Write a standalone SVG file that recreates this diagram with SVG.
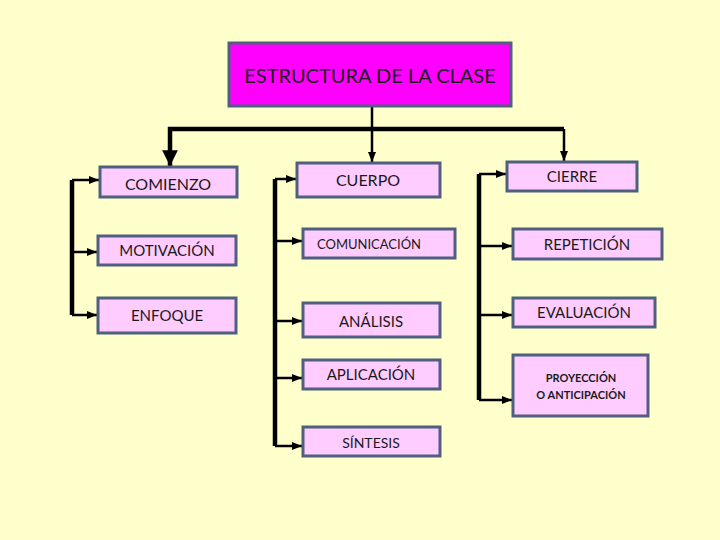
<svg xmlns="http://www.w3.org/2000/svg" width="720" height="540" viewBox="0 0 720 540">
<defs>
<style>
.box{fill:#FFCCFF;stroke:#4F5F80;stroke-width:3}
.title{fill:#FF00FF;stroke:#4F5F80;stroke-width:3}
text{font-family:Lato,"Liberation Sans",sans-serif;fill:#1a1a1a;text-anchor:middle;dominant-baseline:central}
.ln{fill:none;stroke:#000;stroke-width:2.5}
.thick{fill:none;stroke:#000;stroke-width:4.5}
</style>
<marker id="a" viewBox="0 0 10 10" refX="10" refY="5" markerWidth="4" markerHeight="4" markerUnits="strokeWidth" orient="auto"><path d="M0,1 L10,5 L0,9 Z" fill="#000"/></marker>
<marker id="big" viewBox="0 0 10 10" refX="10" refY="5" markerWidth="3.5" markerHeight="3.5" markerUnits="strokeWidth" orient="auto"><path d="M0,0 L10,5 L0,10 Z" fill="#000"/></marker>
</defs>
<rect width="720" height="540" fill="#FFFFCC"/>
<g id="connectors">
<path class="ln" d="M372,106 V162" marker-end="url(#a)"/>
<path class="thick" d="M564,129 H170 V166" marker-end="url(#big)"/>
<path class="ln" d="M564,129 V161" marker-end="url(#a)"/>
<path class="thick" d="M72,180 V315"/>
<path class="ln" d="M72,180 H99" marker-end="url(#a)"/>
<path class="ln" d="M72,252 H97" marker-end="url(#a)"/>
<path class="ln" d="M72,315 H97" marker-end="url(#a)"/>
<path class="thick" d="M275,179 V446"/>
<path class="ln" d="M275,179 H296" marker-end="url(#a)"/>
<path class="ln" d="M275,241 H302" marker-end="url(#a)"/>
<path class="ln" d="M275,321 H302" marker-end="url(#a)"/>
<path class="ln" d="M275,378 H302" marker-end="url(#a)"/>
<path class="ln" d="M275,446 H302" marker-end="url(#a)"/>
<path class="thick" d="M479,174 V400"/>
<path class="ln" d="M479,174 H506" marker-end="url(#a)"/>
<path class="ln" d="M479,246 H512" marker-end="url(#a)"/>
<path class="ln" d="M479,315 H512" marker-end="url(#a)"/>
<path class="ln" d="M479,400 H512" marker-end="url(#a)"/>
</g>
<g id="n-title"><rect class="title" x="229" y="43" width="282" height="63"/><text x="370" y="75" font-size="20">ESTRUCTURA DE LA CLASE</text></g>
<g id="n-comienzo"><rect class="box" x="100" y="167" width="137" height="30"/><text x="168" y="183" font-size="16">COMIENZO</text></g>
<g id="n-motivacion"><rect class="box" x="98" y="236" width="138" height="29"/><text x="167" y="250" font-size="15">MOTIVACIÓN</text></g>
<g id="n-enfoque"><rect class="box" x="98" y="298" width="138" height="35"/><text x="167" y="315" font-size="15">ENFOQUE</text></g>
<g id="n-cuerpo"><rect class="box" x="297" y="163" width="143" height="34"/><text x="368" y="179" font-size="16">CUERPO</text></g>
<g id="n-comunicacion"><rect class="box" x="303" y="229" width="152" height="29"/><text x="369" y="244" font-size="13">COMUNICACIÓN</text></g>
<g id="n-analisis"><rect class="box" x="303" y="303" width="137" height="34"/><text x="371" y="321" font-size="15">ANÁLISIS</text></g>
<g id="n-aplicacion"><rect class="box" x="303" y="360" width="137" height="29"/><text x="371" y="374" font-size="15">APLICACIÓN</text></g>
<g id="n-sintesis"><rect class="box" x="303" y="427" width="137" height="29"/><text x="371" y="442" font-size="14">SÍNTESIS</text></g>
<g id="n-cierre"><rect class="box" x="507" y="162" width="130" height="29"/><text x="572" y="176" font-size="15">CIERRE</text></g>
<g id="n-repeticion"><rect class="box" x="513" y="229" width="149" height="30"/><text x="587" y="244" font-size="15">REPETICIÓN</text></g>
<g id="n-evaluacion"><rect class="box" x="513" y="298" width="142" height="29"/><text x="584" y="312" font-size="15">EVALUACIÓN</text></g>
<g id="n-proyeccion"><rect class="box" x="513" y="355" width="135" height="61"/><text x="581" y="377" font-size="11" font-weight="bold">PROYECCIÓN</text><text x="581" y="394" font-size="11" font-weight="bold">O ANTICIPACIÓN</text></g>
</svg>
